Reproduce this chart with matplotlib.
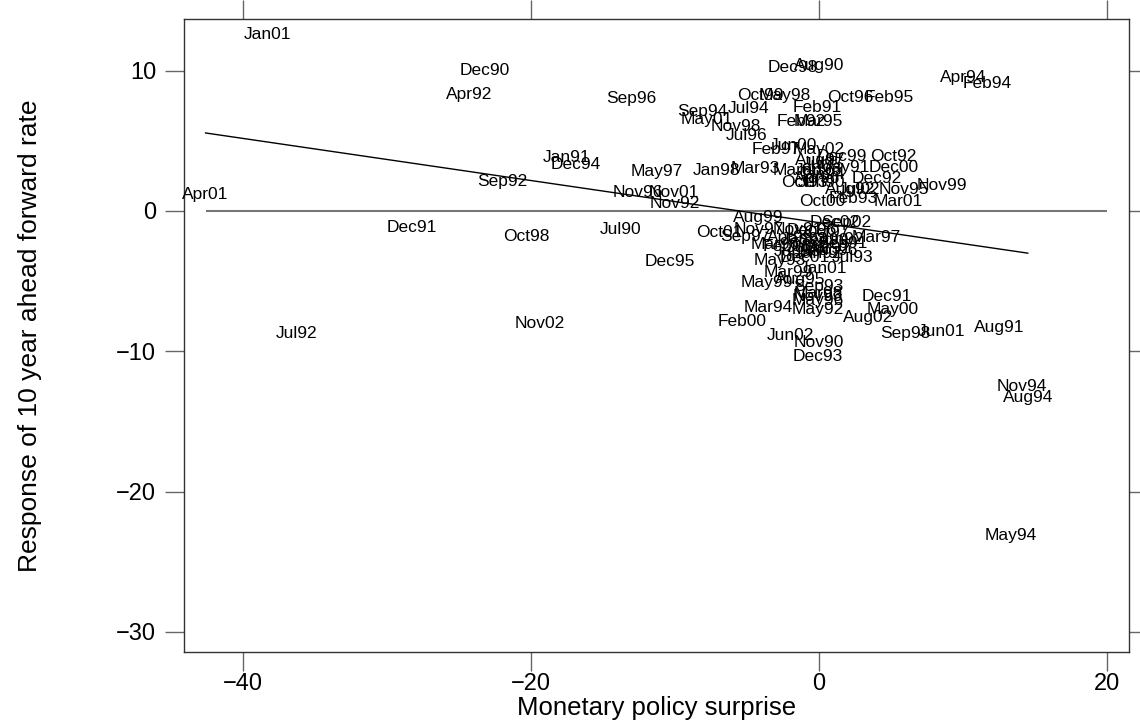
import matplotlib
matplotlib.use("Agg")
import matplotlib.pyplot as plt
import numpy as np

plt.rcParams.update({
    'font.family': ['Liberation Sans', 'DejaVu Sans'],
    'axes.linewidth': 1.0,
    'xtick.direction': 'out',
    'ytick.direction': 'out',
})

# month labels and their (surprise, response) positions
months = [
    "Jan01", "Dec90", "Apr92", "Sep96", "Sep94", "May01", "Jul94", "Oct99",
    "May98", "Dec98", "Aug90", "Feb91", "Oct96", "Feb95", "Nov98", "Feb92",
    "Mar95", "Jul96", "Feb97", "Jun00", "May02", "Dec99", "Oct92", "Dec00",
    "May91", "Apr94", "Feb94", "Mar93", "Jan98", "Mar00", "May97", "Oct93",
    "Dec92", "Nov99", "Nov95", "Aug92", "Oct00", "Mar01", "Nov01", "Nov92",
    "Nov96", "Sep92", "Jan91", "Dec94", "Apr01", "Dec91", "Oct98", "Jul90",
    "Dec95", "Jul92", "Nov02", "Aug91", "Nov94", "Aug94", "May94", "Aug99",
    "Dec02", "Sep02", "Oct01", "Nov97", "Sep97", "Mar97", "Mar96", "Aug96",
    "Jul93", "Dec01", "May93", "Jan01", "Mar99", "Aug95", "May99", "Sep93",
    "Mar98", "Nov93", "May96", "Dec91", "May00", "Mar94", "May92", "Aug02",
    "Feb00", "Sep98", "Jun01", "Jun02", "Nov90", "Dec93",
    "Aug97", "Jul95", "Jan96", "Jan94", "Apr96", "Jun90", "Jul02", "Feb93",
    "Nov91", "Dec96", "Oct97", "Apr99", "Jan93", "Sep99", "Jun92", "Feb98",
    "Jul97", "Mar92", "Sep91", "Jun98", "Jan92",
]
surprise = [
    -38.3, -23.2, -24.3, -13.0, -8.1, -7.8, -4.9, -4.1,
    -2.4, -1.8, 0.0, -0.1, 2.15, 4.9, -5.8, -1.25,
    -0.07, -5.0, -3.0, -1.8, 0.0, 1.6, 5.15, 5.2,
    1.7, 10.0, 11.7, -4.4, -7.1, -1.5, -11.3, -1.0,
    4.0, 8.5, 5.9, 2.15, 0.2, 5.5, -10.1, -10.0,
    -12.6, -22.0, -17.5, -16.9, -42.6, -28.3, -20.3, -13.75,
    -10.35, -36.3, -19.4, 12.5, 14.1, 14.5, 13.3, -4.2,
    1.1, 1.9, -6.9, -4.2, -5.1, 3.95, -3.05, 0.95,
    2.35, -1.0, -2.7, 0.3, -2.15, -1.3, -3.6, -0.07,
    -0.07, -0.07, -0.07, 4.7, 5.15, -3.5, -0.07, 3.4,
    -5.35, 5.97, 8.5, -2.0, 0.0, -0.07,
    0.1, 0.3, 0.0, 0.2, -0.1, 0.2, 2.8, 2.4,
    -1.5, -0.5, 0.5, -2.0, -1.0, 0.3, 1.5, -2.2,
    -0.8, 0.5, 1.6, -1.5, 0.0,
]
response = [
    12.6, 10.0, 8.3, 8.0, 7.06, 6.5, 7.3, 8.2,
    8.2, 10.2, 10.4, 7.4, 8.1, 8.1, 6.0, 6.4,
    6.4, 5.35, 4.4, 4.7, 4.35, 3.85, 3.85, 3.1,
    3.1, 9.5, 9.1, 3.0, 2.9, 2.9, 2.8, 2.0,
    2.3, 1.8, 1.5, 1.5, 0.65, 0.65, 1.35, 0.5,
    1.35, 2.07, 3.8, 3.3, 1.2, -1.2, -1.8, -1.3,
    -3.6, -8.7, -8.0, -8.3, -12.5, -13.3, -23.1, -0.5,
    -0.85, -0.85, -1.5, -1.35, -1.8, -1.9, -2.4, -2.8,
    -3.35, -3.35, -3.5, -4.1, -4.4, -4.85, -5.1, -5.4,
    -5.85, -6.1, -6.4, -6.1, -7.0, -6.85, -7.05, -7.6,
    -7.9, -8.7, -8.6, -8.85, -9.4, -10.4,
    3.6, 3.3, 2.9, 2.6, 2.3, 2.0, 1.55, 0.9,
    -1.3, -1.4, -1.5, -1.9, -2.0, -2.1, -2.0, -2.5,
    -2.6, -2.7, -2.3, -2.9, -3.0,
]

# fitted line (intercept, slope) and end of the zero line
fit_intercept = -0.83
fit_slope = -0.150
zero_line_end = 20

x = np.array(surprise)
y = np.array(response)

fig = plt.figure(figsize=(11.4, 7.26), dpi=100)
ax = fig.add_axes([0.1614, 0.1019, 0.8292, 0.8719])

for name, xi, yi in zip(months, x, y):
    ax.text(xi, yi, name, ha='center', va='center', fontsize=12.5, color='black')

ax.hlines(0, x.min(), zero_line_end, color='#777777', linewidth=1.5)
xf = np.array([x.min(), x.max()])
ax.plot(xf, fit_intercept + fit_slope * xf, color='black', linewidth=1.0)

ax.set_xlim(-44.1, 21.55)
ax.set_ylim(-31.43, 13.68)
ax.set_xticks([-40, -20, 0, 20])
ax.set_yticks([-30, -20, -10, 0, 10])

for s in ax.spines.values():
    s.set_color('#333333')

ax.tick_params(axis='both', which='major', length=14, width=1.0, color='#666666',
               labelsize=17, top=True, right=True)
ax.tick_params(axis='x', pad=1)
ax.tick_params(axis='y', pad=6)

ax.set_xlabel("Monetary policy surprise", fontsize=18.5, labelpad=1)
ax.set_ylabel("Response of 10 year ahead forward rate", fontsize=19)
ax.yaxis.set_label_coords(-0.150, 0.5)

fig.savefig("out.png", dpi=100)
